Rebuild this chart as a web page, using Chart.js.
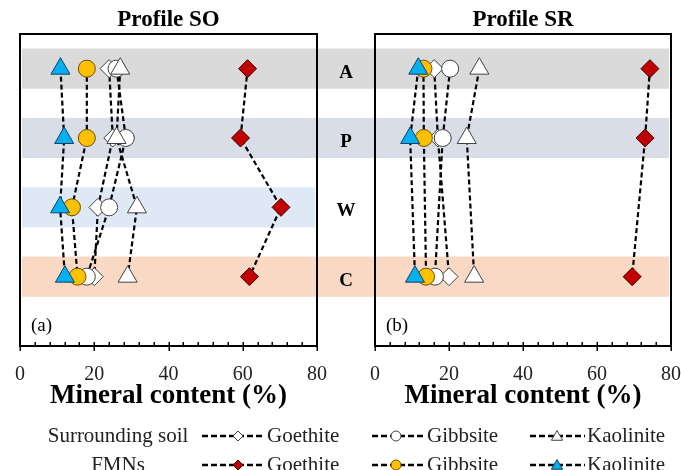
<!DOCTYPE html>
<html>
<head>
<meta charset="utf-8">
<script src="https://cdn.jsdelivr.net/npm/chart.js@4.4.1/dist/chart.umd.min.js"></script>
<style>
  html, body { margin: 0; padding: 0; background: #ffffff; }
  #wrap { position: relative; width: 681px; height: 470px; overflow: hidden; }
  #wrap canvas { position: absolute; left: 0; top: 0; }
</style>
</head>
<body>
<div id="wrap">
  <canvas id="so" width="681" height="470"></canvas>
  <canvas id="sr" width="681" height="470"></canvas>
</div>
<script>
// Soil horizons, top to bottom, and x-axis ticks
const horizons = ['A', 'P', 'W', 'C'];
const xTicks = [0, 20, 40, 60, 80];
const minerals = ['Goethite', 'Gibbsite', 'Kaolinite'];

// Profile SO: mineral content (%) per horizon
const soSoilGoethite  = [24, 25, 21, 20];
const soSoilGibbsite  = [26, 28.5, 24, 18];
const soSoilKaolinite = [27, 26, 31.5, 29];
const soFmnGoethite   = [61.3, 59.4, 70.3, 61.8];
const soFmnGibbsite   = [18, 18, 14, 15.5];
const soFmnKaolinite  = [10.9, 11.9, 10.8, 12.1];

// Profile SR: no W horizon
const srSoilGoethite  = [16, 17, null, 20];
const srSoilGibbsite  = [20.3, 18.3, null, 16.2];
const srSoilKaolinite = [28.2, 24.8, null, 26.8];
const srFmnGoethite   = [74.3, 73, null, 69.5];
const srFmnGibbsite   = [13.1, 13.2, null, 13.8];
const srFmnKaolinite  = [11.7, 9.5, null, 10.8];

const SERIF = "'Liberation Serif', 'Times New Roman', serif";
Chart.defaults.font.family = SERIF;
Chart.defaults.color = '#000000';

// Marker styles for each series (FMNs listed first so they sit on top)
const seriesStyles = {
  fmnKaolinite:  { style: 'triangle', r: 11, fill: '#00b0f0', border: '#1b3f66' },
  fmnGibbsite:   { style: 'circle',   r: 8.5, fill: '#ffc000', border: '#6b5200' },
  fmnGoethite:   { style: 'rectRot',  r: 9, fill: '#c00000', border: '#400000' },
  soilKaolinite: { style: 'triangle', r: 11, fill: '#ffffff', border: '#404040' },
  soilGibbsite:  { style: 'circle',   r: 8.5, fill: '#ffffff', border: '#404040' },
  soilGoethite:  { style: 'rectRot',  r: 9, fill: '#ffffff', border: '#404040' }
};

function toPoints(values) {
  return values
    .map((v, i) => (v === null ? null : { x: v, y: i + 1 }))
    .filter(p => p !== null);
}

function makeDataset(label, values, key) {
  const s = seriesStyles[key];
  return {
    label: label,
    data: toPoints(values),
    showLine: true,
    borderColor: '#000000',
    borderWidth: 2.2,
    borderDash: [5, 3],
    pointStyle: s.style,
    pointRadius: s.r,
    pointHoverRadius: s.r,
    pointBackgroundColor: s.fill,
    pointBorderColor: s.border,
    pointBorderWidth: 1
  };
}

// Horizon bands spanning both panels (W only exists in profile SO)
const bandDefs = [
  { h: 'A', color: '#dadada', x0: 22, x1: 669 },
  { h: 'P', color: '#d8dde7', x0: 22, x1: 669 },
  { h: 'W', color: '#dfe9f5', x0: 22, x1: 315 },
  { h: 'C', color: '#f9d8c4', x0: 22, x1: 669 }
];

const bandsPlugin = {
  id: 'bands',
  beforeDatasetsDraw(chart) {
    const ys = chart.scales.y;
    const ctx = chart.ctx;
    ctx.save();
    bandDefs.forEach(b => {
      const pos = horizons.indexOf(b.h) + 1;
      const y0 = ys.getPixelForValue(pos - 0.29);
      const y1 = ys.getPixelForValue(pos + 0.29);
      ctx.fillStyle = b.color;
      ctx.fillRect(b.x0, y0, b.x1 - b.x0, y1 - y0);
    });
    ctx.restore();
  },
  afterDraw(chart) {
    const ys = chart.scales.y;
    const ctx = chart.ctx;
    ctx.save();
    ctx.fillStyle = '#000';
    ctx.font = 'bold 19px ' + SERIF;
    ctx.textAlign = 'center';
    ctx.textBaseline = 'middle';
    horizons.forEach((h, i) => {
      ctx.fillText(h, 346, ys.getPixelForValue(i + 1) + 4);
    });
    ctx.restore();
  }
};

// Frame, inward minor ticks, crossing major ticks, panel tag
const framePlugin = {
  id: 'frame',
  afterDraw(chart, args, opts) {
    const ca = chart.chartArea;
    const xs = chart.scales.x;
    const ctx = chart.ctx;
    ctx.save();
    ctx.strokeStyle = '#000';
    ctx.lineWidth = 2;
    ctx.strokeRect(ca.left, ca.top, ca.right - ca.left, ca.bottom - ca.top);
    ctx.lineWidth = 1.5;
    ctx.beginPath();
    for (let v = 0; v <= 80; v += 4) {
      const px = Math.round(xs.getPixelForValue(v)) + 0.25;
      ctx.moveTo(px, ca.bottom - 4);
      ctx.lineTo(px, ca.bottom + (v % 20 === 0 ? 5 : 0));
    }
    ctx.stroke();
    ctx.fillStyle = '#000';
    ctx.font = '19px ' + SERIF;
    ctx.textAlign = 'left';
    ctx.textBaseline = 'middle';
    ctx.fillText(opts.tag, ca.left + 11, ca.bottom - 20);
    ctx.restore();
  }
};

function drawMarker(ctx, style, x, y, r, fill, border) {
  ctx.save();
  ctx.fillStyle = fill;
  ctx.strokeStyle = border;
  ctx.lineWidth = 1;
  ctx.setLineDash([]);
  ctx.beginPath();
  if (style === 'circle') {
    ctx.arc(x, y, r, 0, Math.PI * 2);
  } else if (style === 'rectRot') {
    ctx.moveTo(x - r, y); ctx.lineTo(x, y - r); ctx.lineTo(x + r, y); ctx.lineTo(x, y + r);
  } else {
    for (let k = 0; k < 3; k++) {
      const a = k * 2 * Math.PI / 3;
      const px = x + Math.sin(a) * r, py = y - Math.cos(a) * r;
      if (k === 0) ctx.moveTo(px, py); else ctx.lineTo(px, py);
    }
  }
  ctx.closePath();
  ctx.fill();
  ctx.stroke();
  ctx.restore();
}

// Two-row legend: surrounding soil and FMNs
const legendRows = [
  { label: 'Surrounding soil', keys: ['soilGoethite', 'soilGibbsite', 'soilKaolinite'], y: 436 },
  { label: 'FMNs', keys: ['fmnGoethite', 'fmnGibbsite', 'fmnKaolinite'], y: 465 }
];
const legendCols = [
  { x0: 202, xm: 238, x1: 265, tx: 267 },
  { x0: 372, xm: 396, x1: 425, tx: 427 },
  { x0: 530, xm: 557, x1: 585, tx: 587 }
];
const legendPlugin = {
  id: 'twoRowLegend',
  afterDraw(chart) {
    const ctx = chart.ctx;
    ctx.save();
    ctx.font = '21px ' + SERIF;
    ctx.textBaseline = 'middle';
    ctx.fillStyle = '#222';
    legendRows.forEach(row => {
      ctx.textAlign = 'center';
      ctx.fillText(row.label, 118, row.y);
      row.keys.forEach((key, c) => {
        const col = legendCols[c];
        const s = seriesStyles[key];
        ctx.save();
        ctx.strokeStyle = '#000';
        ctx.lineWidth = 2.5;
        ctx.setLineDash([6, 3]);
        ctx.beginPath();
        ctx.moveTo(col.x0, row.y);
        ctx.lineTo(col.x1, row.y);
        ctx.stroke();
        ctx.restore();
        const rr = s.style === 'triangle' ? 6.5 : 5;
        drawMarker(ctx, s.style, col.xm, row.y + (s.style === 'triangle' ? 1 : 0), rr, s.fill, s.border);
        ctx.textAlign = 'left';
        ctx.fillStyle = '#222';
        ctx.fillText(minerals[c], col.tx, row.y);
      });
    });
    ctx.restore();
  }
};

function makeChart(id, title, tag, padLeft, padRight, series, extraPlugins) {
  return new Chart(document.getElementById(id), {
    type: 'scatter',
    data: {
      datasets: [
        makeDataset('FMNs Kaolinite', series[5], 'fmnKaolinite'),
        makeDataset('FMNs Gibbsite', series[4], 'fmnGibbsite'),
        makeDataset('FMNs Goethite', series[3], 'fmnGoethite'),
        makeDataset('Surrounding soil Kaolinite', series[2], 'soilKaolinite'),
        makeDataset('Surrounding soil Gibbsite', series[1], 'soilGibbsite'),
        makeDataset('Surrounding soil Goethite', series[0], 'soilGoethite')
      ]
    },
    options: {
      responsive: false,
      animation: false,
      devicePixelRatio: 1,
      layout: { autoPadding: false, padding: { left: padLeft, right: padRight, top: 0, bottom: 60 } },
      scales: {
        x: {
          type: 'linear',
          min: xTicks[0],
          max: xTicks[xTicks.length - 1],
          afterBuildTicks: (scale) => { scale.ticks = xTicks.map(v => ({ value: v })); },
          afterFit: (scale) => {
            scale.height = 64;
            scale.paddingLeft = 0;
            scale.paddingRight = 0;
          },
          grid: { display: false, drawTicks: false },
          border: { display: false },
          ticks: { padding: 17, color: '#222', font: { size: 20, lineHeight: 1.2 } },
          title: {
            display: true,
            text: 'Mineral content (%)',
            color: '#000',
            padding: { top: 0, bottom: 0 },
            font: { size: 27, weight: 'bold', lineHeight: 1.0 }
          }
        },
        y: { type: 'linear', min: 0.5, max: 5, reverse: true, display: false }
      },
      plugins: {
        legend: { display: false },
        tooltip: { enabled: false },
        title: {
          display: true,
          text: title,
          fullSize: false,
          color: '#000',
          padding: { top: 6, bottom: 0.4 },
          font: { size: 23, weight: 'bold', lineHeight: 1.2 }
        },
        frame: { tag: tag }
      }
    },
    plugins: [framePlugin].concat(extraPlugins)
  });
}

makeChart('so', 'Profile SO', '(a)', 20, 364,
  [soSoilGoethite, soSoilGibbsite, soSoilKaolinite, soFmnGoethite, soFmnGibbsite, soFmnKaolinite],
  [bandsPlugin]);
makeChart('sr', 'Profile SR', '(b)', 375, 10,
  [srSoilGoethite, srSoilGibbsite, srSoilKaolinite, srFmnGoethite, srFmnGibbsite, srFmnKaolinite],
  [legendPlugin]);
</script>
</body>
</html>
